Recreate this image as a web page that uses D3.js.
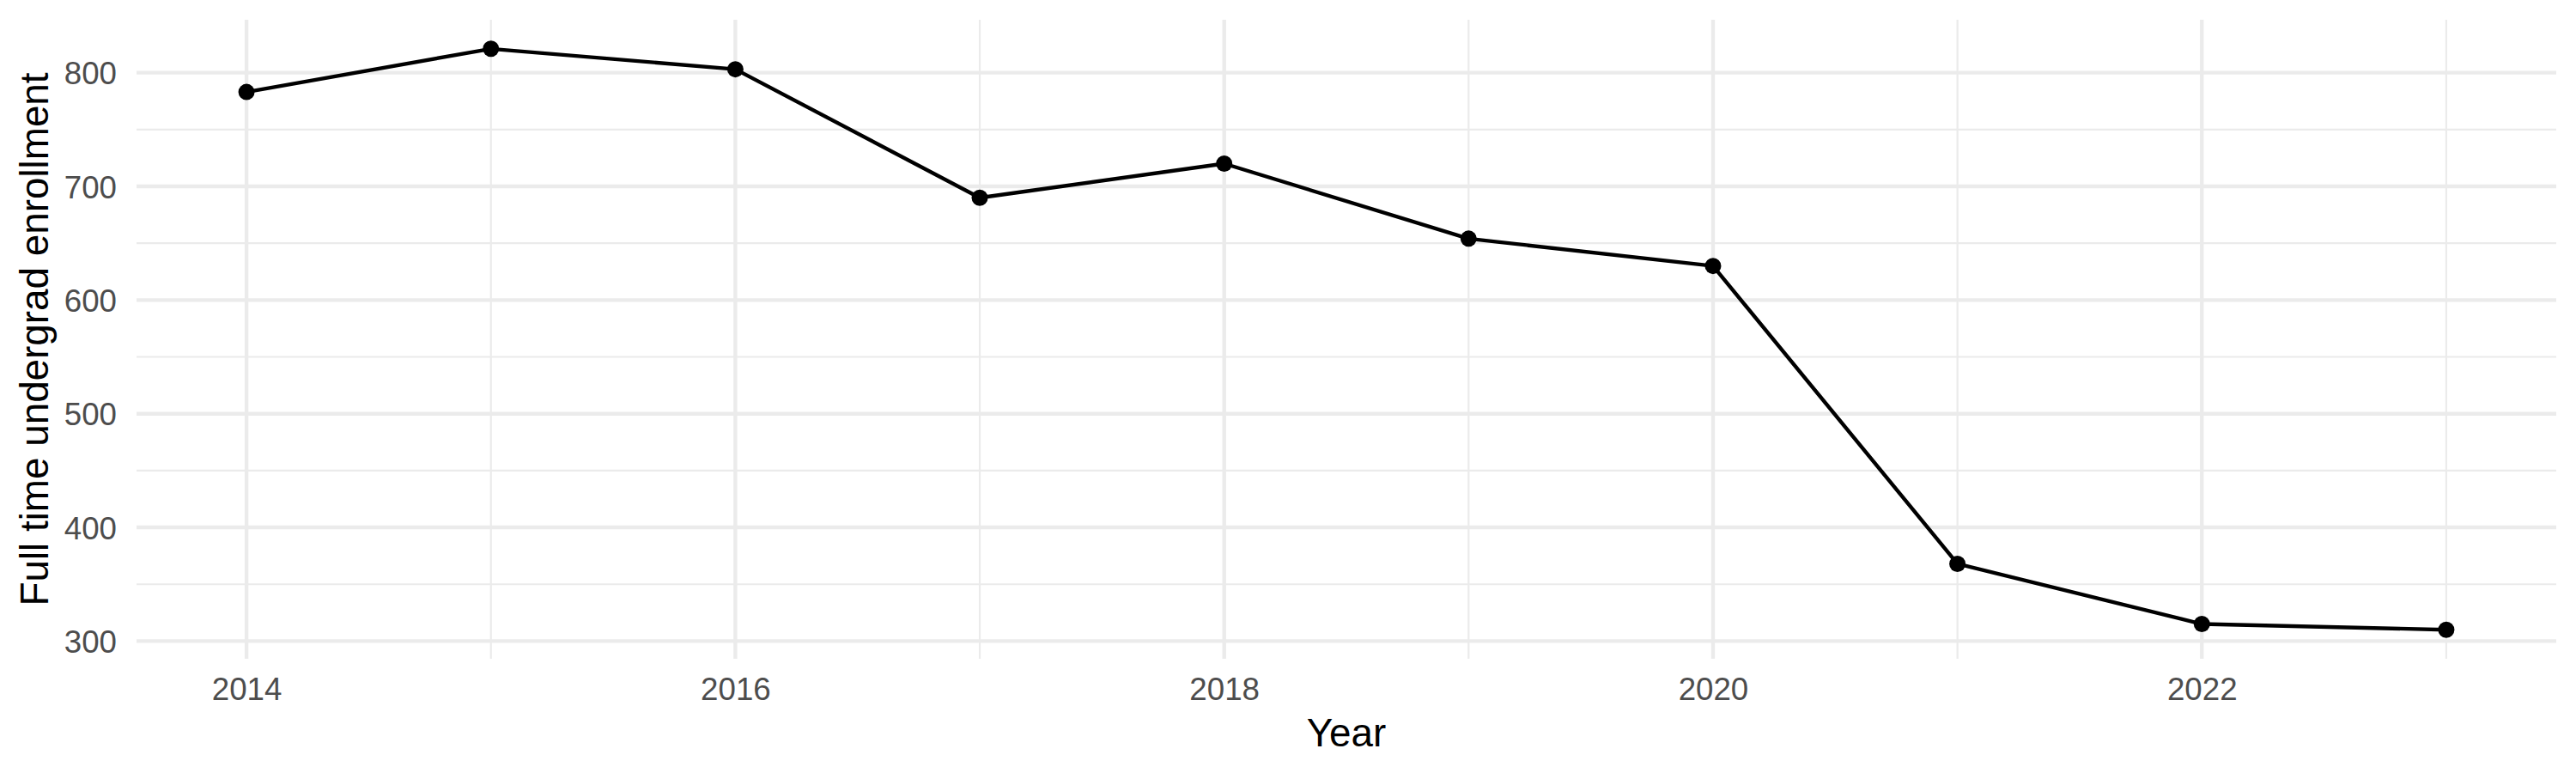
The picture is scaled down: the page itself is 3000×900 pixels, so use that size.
<!DOCTYPE html>
<html>
<head>
<meta charset="utf-8">
<script src="https://cdn.jsdelivr.net/npm/d3@7"></script>
<style>
  html, body { margin: 0; padding: 0; background: #ffffff; }
  svg { display: block; }
</style>
</head>
<body>
<svg id="chart" width="3000" height="900"></svg>
<script>
// ---- data ----
const years = [2014, 2015, 2016, 2017, 2018, 2019, 2020, 2021, 2022, 2023];
const enrollment = [783, 821, 803, 690, 720, 654, 630, 368, 315, 310];
const xMajorTicks = [2014, 2016, 2018, 2020, 2022];
const xMinorTicks = [2015, 2017, 2019, 2021, 2023];
const yMajorTicks = [300, 400, 500, 600, 700, 800];
const yMinorTicks = [350, 450, 550, 650, 750];
const xTitle = "Year";
const yTitle = "Full time undergrad enrollment";

// ---- layout ----
const W = 3000, H = 900;
const panel = { left: 159, right: 2977, top: 23, bottom: 767 };
const FONT = "'Liberation Sans', Arial, Helvetica, sans-serif";

const svg = d3.select("#chart");

// ggplot-style 5% expansion
const xExt = d3.extent(years);
const xPad = (xExt[1] - xExt[0]) * 0.05;
const yExt = d3.extent(enrollment);
const yPad = (yExt[1] - yExt[0]) * 0.05;

const x = d3.scaleLinear()
  .domain([xExt[0] - xPad, xExt[1] + xPad])
  .range([panel.left, panel.right]);
const y = d3.scaleLinear()
  .domain([yExt[0] - yPad, yExt[1] + yPad])
  .range([panel.bottom, panel.top]);

const grid = svg.append("g");

// minor grid
grid.selectAll("line.ymin").data(yMinorTicks).join("line")
  .attr("x1", panel.left).attr("x2", panel.right)
  .attr("y1", d => y(d)).attr("y2", d => y(d))
  .attr("stroke", "#EBEBEB").attr("stroke-width", 2.2);
grid.selectAll("line.xmin").data(xMinorTicks).join("line")
  .attr("y1", panel.top).attr("y2", panel.bottom)
  .attr("x1", d => x(d)).attr("x2", d => x(d))
  .attr("stroke", "#EBEBEB").attr("stroke-width", 2.2);

// major grid
grid.selectAll("line.ymaj").data(yMajorTicks).join("line")
  .attr("x1", panel.left).attr("x2", panel.right)
  .attr("y1", d => y(d)).attr("y2", d => y(d))
  .attr("stroke", "#EBEBEB").attr("stroke-width", 4.4);
grid.selectAll("line.xmaj").data(xMajorTicks).join("line")
  .attr("y1", panel.top).attr("y2", panel.bottom)
  .attr("x1", d => x(d)).attr("x2", d => x(d))
  .attr("stroke", "#EBEBEB").attr("stroke-width", 4.4);

// axes (labels only, via d3 axes)
const yAxis = svg.append("g")
  .attr("transform", `translate(${panel.left},0)`)
  .call(d3.axisLeft(y).tickValues(yMajorTicks).tickSize(0).tickPadding(23).tickFormat(d3.format("d")));
yAxis.select(".domain").remove();
yAxis.selectAll("text")
  .attr("font-family", FONT).attr("font-size", 36.7).attr("fill", "#4D4D4D")
  .attr("dy", "0.36em");

const xAxis = svg.append("g")
  .attr("transform", `translate(0,${panel.bottom})`)
  .call(d3.axisBottom(x).tickValues(xMajorTicks).tickSize(0).tickPadding(22).tickFormat(d3.format("d")));
xAxis.select(".domain").remove();
xAxis.selectAll("text")
  .attr("font-family", FONT).attr("font-size", 36.7).attr("fill", "#4D4D4D");

// line + points
const line = d3.line()
  .x((d, i) => x(years[i]))
  .y(d => y(d));

svg.append("path")
  .datum(enrollment)
  .attr("d", line)
  .attr("fill", "none")
  .attr("stroke", "#000000")
  .attr("stroke-width", 4.4)
  .attr("stroke-linejoin", "round");

svg.selectAll("circle.pt").data(enrollment).join("circle")
  .attr("cx", (d, i) => x(years[i]))
  .attr("cy", d => y(d))
  .attr("r", 9.5)
  .attr("fill", "#000000");

// titles
svg.append("text")
  .attr("x", (panel.left + panel.right) / 2)
  .attr("y", 869)
  .attr("text-anchor", "middle")
  .attr("font-family", FONT).attr("font-size", 45.8).attr("fill", "#000000")
  .text(xTitle);

svg.append("text")
  .attr("transform", `translate(56,${(panel.top + panel.bottom) / 2}) rotate(-90)`)
  .attr("text-anchor", "middle")
  .attr("font-family", FONT).attr("font-size", 45.8).attr("fill", "#000000")
  .text(yTitle);
</script>
</body>
</html>
